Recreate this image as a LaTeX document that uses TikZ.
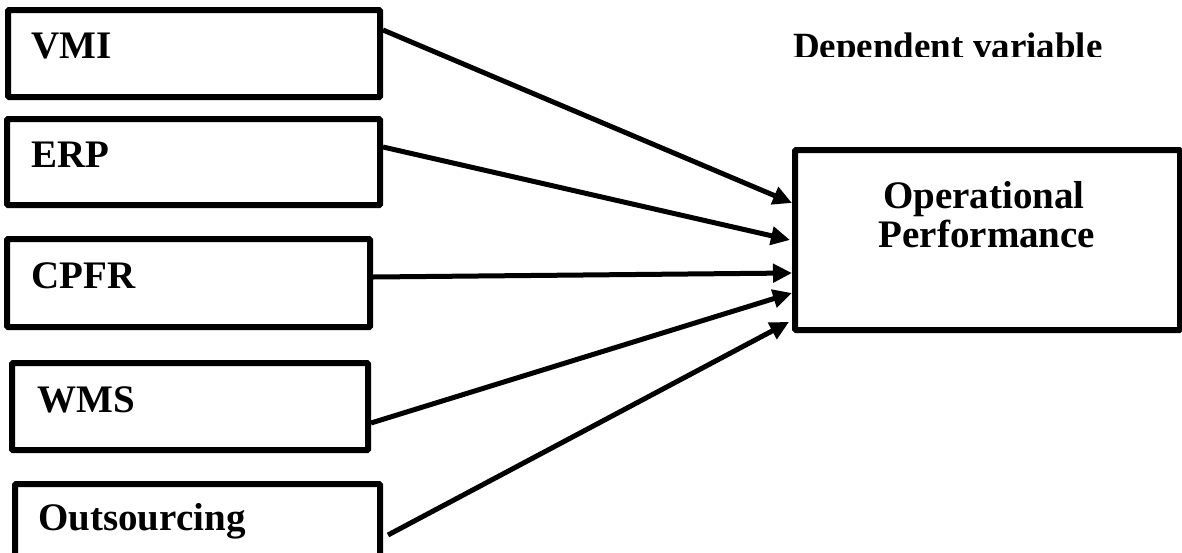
\documentclass[tikz,border=0pt]{standalone}
\usepackage{fontspec}
\setmainfont{Liberation Serif}
\usetikzlibrary{arrows.meta}
\tikzset{
  box/.style={draw=black, line width=6pt, rounded corners=1pt, inner sep=0pt},
  lbl/.style={anchor=base west, inner sep=0pt, font=\fontsize{39}{40}\selectfont\bfseries},
  ctr/.style={anchor=base, inner sep=0pt, font=\fontsize{39}{40}\selectfont\bfseries},
  arr/.style={line width=5pt, -{Triangle[length=19pt,width=18pt]}}
}
\begin{document}
\begin{tikzpicture}[x=1pt,y=-1pt]
\useasboundingbox (0,0) rectangle (1182,552);
\clip (0,0) rectangle (1182,552);
% boxes
\node[box, minimum width=372pt, minimum height=87pt] (vmi) at (194,53.5) {};
\node[box, minimum width=373pt, minimum height=86pt] (erp) at (193.5,162) {};
\node[box, minimum width=363pt, minimum height=88pt] (cpfr) at (188.5,283) {};
\node[box, minimum width=356pt, minimum height=87pt] (wms) at (190,406.5) {};
\node[box, minimum width=365pt, minimum height=90pt] (out) at (197.5,529) {};
\node[box, minimum width=385pt, minimum height=180pt] (op) at (987.5,240) {};
% labels
\node[lbl] (t1) at (31,58) {VMI};
\node[lbl] (t2) at (31,167) {ERP};
\node[lbl] (t3) at (31,288) {CPFR};
\node[lbl] (t4) at (37,412) {WMS};
\node[lbl] (t5) at (38,530) {Outsourcing};
\node[ctr] (t6) at (984,208) {Operational};
\node[ctr] (t7) at (987,247) {Performance};
\begin{scope}
\clip (700,0) rectangle (1182,56.5);
\node[lbl, font=\fontsize{37}{40}\selectfont\bfseries] (dep) at (793,58) {Dependent variable};
\end{scope}
% connectors
\coordinate (e1) at (792,203);
\coordinate (e2) at (790,240);
\coordinate (e3) at (792,273);
\coordinate (e4) at (792,293);
\coordinate (e5) at (789,322);
\coordinate (s5) at (388,535);
\draw[arr] (vmi.east |- 0,30) -- (e1);
\draw[arr] (erp.east |- 0,147) -- (e2);
\draw[arr] (cpfr.east |- 0,277) -- (e3);
\draw[arr] (wms.east |- 0,423) -- (e4);
\draw[arr] (s5) -- (e5);
\end{tikzpicture}
\end{document}
